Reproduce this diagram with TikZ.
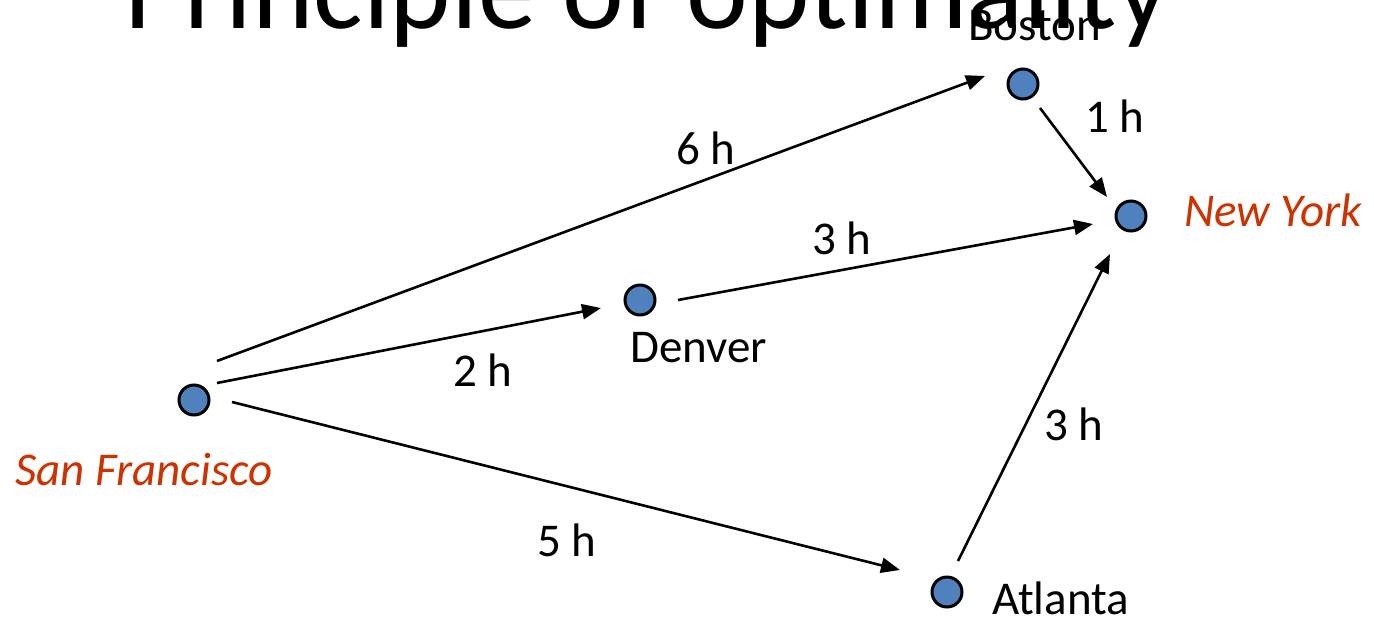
\documentclass[tikz,border=0pt]{standalone}
\usepackage{fontspec}
\setmainfont{Carlito}
\usetikzlibrary{arrows.meta}
\definecolor{cityblue}{HTML}{4F81BD}
\definecolor{cityred}{HTML}{CC3300}

\tikzset{
  city/.style = {circle, draw = black, line width = 3pt, fill = cityblue, minimum size = 30pt, inner sep = 0pt, outer sep = 0pt},
  cityname/.style = {anchor = base west, inner sep = 0pt, font = \fontsize{47}{56}\selectfont},
  endcity/.style = {cityname, text = cityred, font = \fontsize{47}{56}\selectfont\itshape},
  hours/.style = {anchor = base west, inner sep = 0pt, font = \fontsize{47}{56}\selectfont},
  trip/.style = {line width = 2.6pt, -{Triangle[length = 19pt, width = 15pt]}}
}

\begin{document}
\begin{tikzpicture}[x = 1pt, y = -1pt]
    \useasboundingbox (0, 0) rectangle (1374, 619);
    \clip (0, 0) rectangle (1374, 619);

    \node[anchor = base, inner sep = 0pt, font = \fontsize{117}{140}\selectfont] (title) at (647, 28) {Principle of optimality};

    % the cities
    \node[city] (sf) at (194, 400) {};
    \node[city] (denver) at (640, 300) {};
    \node[city] (boston) at (1023, 84) {};
    \node[city] (ny) at (1131, 216) {};
    \node[city] (atlanta) at (947, 592) {};

    \node[endcity] (sfname) at (15, 485) {San Francisco};
    \node[cityname] (denvername) at (630, 362) {Denver};
    \node[cityname] (bostonname) at (968, 40) {Boston};
    \node[endcity] (nyname) at (1184, 226) {New York};
    \node[cityname] (atlantaname) at (992, 614) {Atlanta};

    % the flights, they stop short of the dots
    \draw[trip] ([shift = {(23, -39)}]sf.center) -- ([shift = {(-38, -8)}]boston.center);
    \draw[trip] ([shift = {(23, -17)}]sf.center) -- ([shift = {(-39, 8)}]denver.center);
    \draw[trip] ([shift = {(38, 2)}]sf.center) -- ([shift = {(-47, -22)}]atlanta.center);
    \draw[trip] ([shift = {(38, 0)}]denver.center) -- ([shift = {(-38, 8)}]ny.center);
    \draw[trip] ([shift = {(17, 24)}]boston.center) -- ([shift = {(-24, -19)}]ny.center);
    \draw[trip] ([shift = {(11, -31)}]atlanta.center) -- ([shift = {(-21, 38)}]ny.center);

    \node[hours] (sfboston) at (676, 164) {6 h};
    \node[hours] (sfdenver) at (453, 386) {2 h};
    \node[hours] (sfatlanta) at (537, 556) {5 h};
    \node[hours] (denverny) at (812, 254) {3 h};
    \node[hours] (bostonny) at (1085, 132) {1 h};
    \node[hours] (atlantany) at (1044, 440) {3 h};
\end{tikzpicture}
\end{document}
